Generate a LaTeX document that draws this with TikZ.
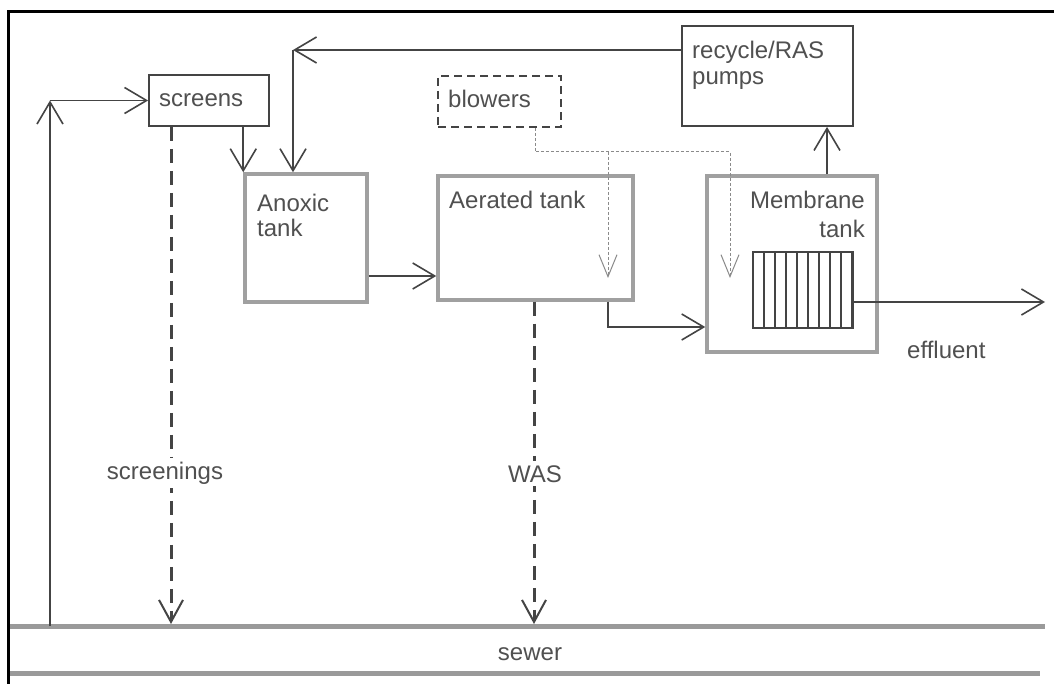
\documentclass[tikz,border=0pt]{standalone}
\usepackage{fontspec}
\setmainfont{Liberation Sans}
\usetikzlibrary{arrows.meta}
\definecolor{ink}{HTML}{444444}
\definecolor{txt}{HTML}{505050}
\definecolor{tankgray}{HTML}{A0A0A0}
\definecolor{sewergray}{HTML}{9A9A9A}
\definecolor{airgray}{HTML}{8A8A8A}
\begin{document}
\begin{tikzpicture}[x=1pt,y=-1pt,
  font=\fontsize{24}{28}\selectfont, text=txt,
  box/.style={draw=ink, line width=1.8pt, inner sep=0pt},
  tank/.style={draw=tankgray, line width=3.5pt, inner sep=0pt},
  blowbox/.style={draw=ink, line width=1.8pt, inner sep=0pt, dash pattern=on 8pt off 5pt},
  lbl/.style={anchor=base west, inner sep=0pt},
  flow/.style={draw=ink, line width=1.6pt, -{Straight Barb[length=22pt,width=26pt]}},
  air/.style={draw=airgray, line width=1pt, dash pattern=on 3pt off 2pt, -{Straight Barb[length=22pt,width=18pt]}},
  waste/.style={draw=ink, line width=3pt, dash pattern=on 14pt off 8pt, -{Straight Barb[length=22pt,width=24pt,line width=2pt]}},
  sewerline/.style={draw=sewergray, line width=5pt}
]
\useasboundingbox (0,0) rectangle (1054,684);
\fill[white] (0,0) rectangle (1054,684);
\draw[black, line width=3pt] (8,12) rectangle (1080,710);

% boxes
\node[box, minimum width=120pt, minimum height=51pt] (screens) at (209,100.5) {};
\node[tank, minimum width=122pt, minimum height=128pt] (anoxic) at (306,238) {};
\node[tank, minimum width=195pt, minimum height=124pt] (aerated) at (535.5,238) {};
\node[tank, minimum width=170pt, minimum height=176pt] (membrane) at (792,264) {};
\node[box, minimum width=171pt, minimum height=100pt] (recycle) at (767.5,76) {};
\node[blowbox, minimum width=123pt, minimum height=51pt] (blowers) at (499.5,101.5) {};
\node[draw=ink, line width=1.2pt, inner sep=0pt, minimum width=99pt, minimum height=76pt] (module) at (802.5,290) {};
\foreach \i in {1,...,8} \draw[ink, line width=1.2pt] ({753+\i*11},252) -- ({753+\i*11},328);
\draw[ink, line width=2.5pt] (module.north east) -- (module.south east);

% texts
\node[lbl] (tscreens) at (159,107) {screens};
\node[lbl] (tanox1) at (257,212) {Anoxic};
\node[lbl] (tanox2) at (257,237) {tank};
\node[lbl] (taer) at (449,209) {Aerated tank};
\node[lbl] (tblow) at (448,108) {blowers};
\node[lbl] (trec1) at (692,59) {recycle/RAS};
\node[lbl] (trec2) at (692,85) {pumps};
\node[anchor=base east, inner sep=0pt] (tmem1) at (865,209) {Membrane};
\node[anchor=base east, inner sep=0pt] (tmem2) at (865,238) {tank};
\node[lbl] (teff) at (907,358) {effluent};

% sewer
\draw[sewerline] (10,626) -- (1045,626);
\draw[sewerline] (10,673) -- (1040,673);
\node[anchor=base, inner sep=0pt] (tsewer) at (530,660) {sewer};

% connectors
\coordinate (feedin) at (50,626);
\coordinate (feedcorner) at (50,100.5);
\draw[flow] (feedin) -- (feedcorner);
\draw[flow] (feedcorner) -- (screens.west);

\draw[flow] (anoxic.north west |- screens.south) -- (anoxic.north west);

\coordinate (rc) at (293,50);
\draw[flow] (recycle.west |- rc) -- (rc);
\draw[flow] (rc) -- (rc |- anoxic.north);

\coordinate (a1) at (0,276);
\draw[flow] (anoxic.east |- a1) -- (aerated.west |- a1);

\coordinate (a2) at (608,327);
\draw[flow] (a2 |- aerated.south) -- (a2) -- (membrane.west |- a2);

\coordinate (a3) at (827,0);
\draw[flow] (a3 |- membrane.north) -- (a3 |- recycle.south);

\coordinate (eff) at (1045,302);
\draw[flow] (module.east |- eff) -- (eff);

\coordinate (b1) at (535,152);
\coordinate (b2) at (730,152);
\coordinate (b2e) at (730,278);
\coordinate (b3) at (608,152);
\coordinate (b3e) at (608,278);
\draw[air] (b1 |- blowers.south) -- (b1) -- (b2) -- (b2e);
\draw[air] (b3) -- (b3e);

\coordinate (s1) at (171,624);
\draw[waste] (s1 |- screens.south) -- (s1);
\node[anchor=base, fill=white, inner sep=4pt] (tscreenings) at (165,479) {screenings};

\coordinate (w1) at (534,624);
\draw[waste] (w1 |- aerated.south) -- (w1);
\node[anchor=base, fill=white, inner sep=4pt] (twas) at (535,482) {WAS};
\end{tikzpicture}
\end{document}
